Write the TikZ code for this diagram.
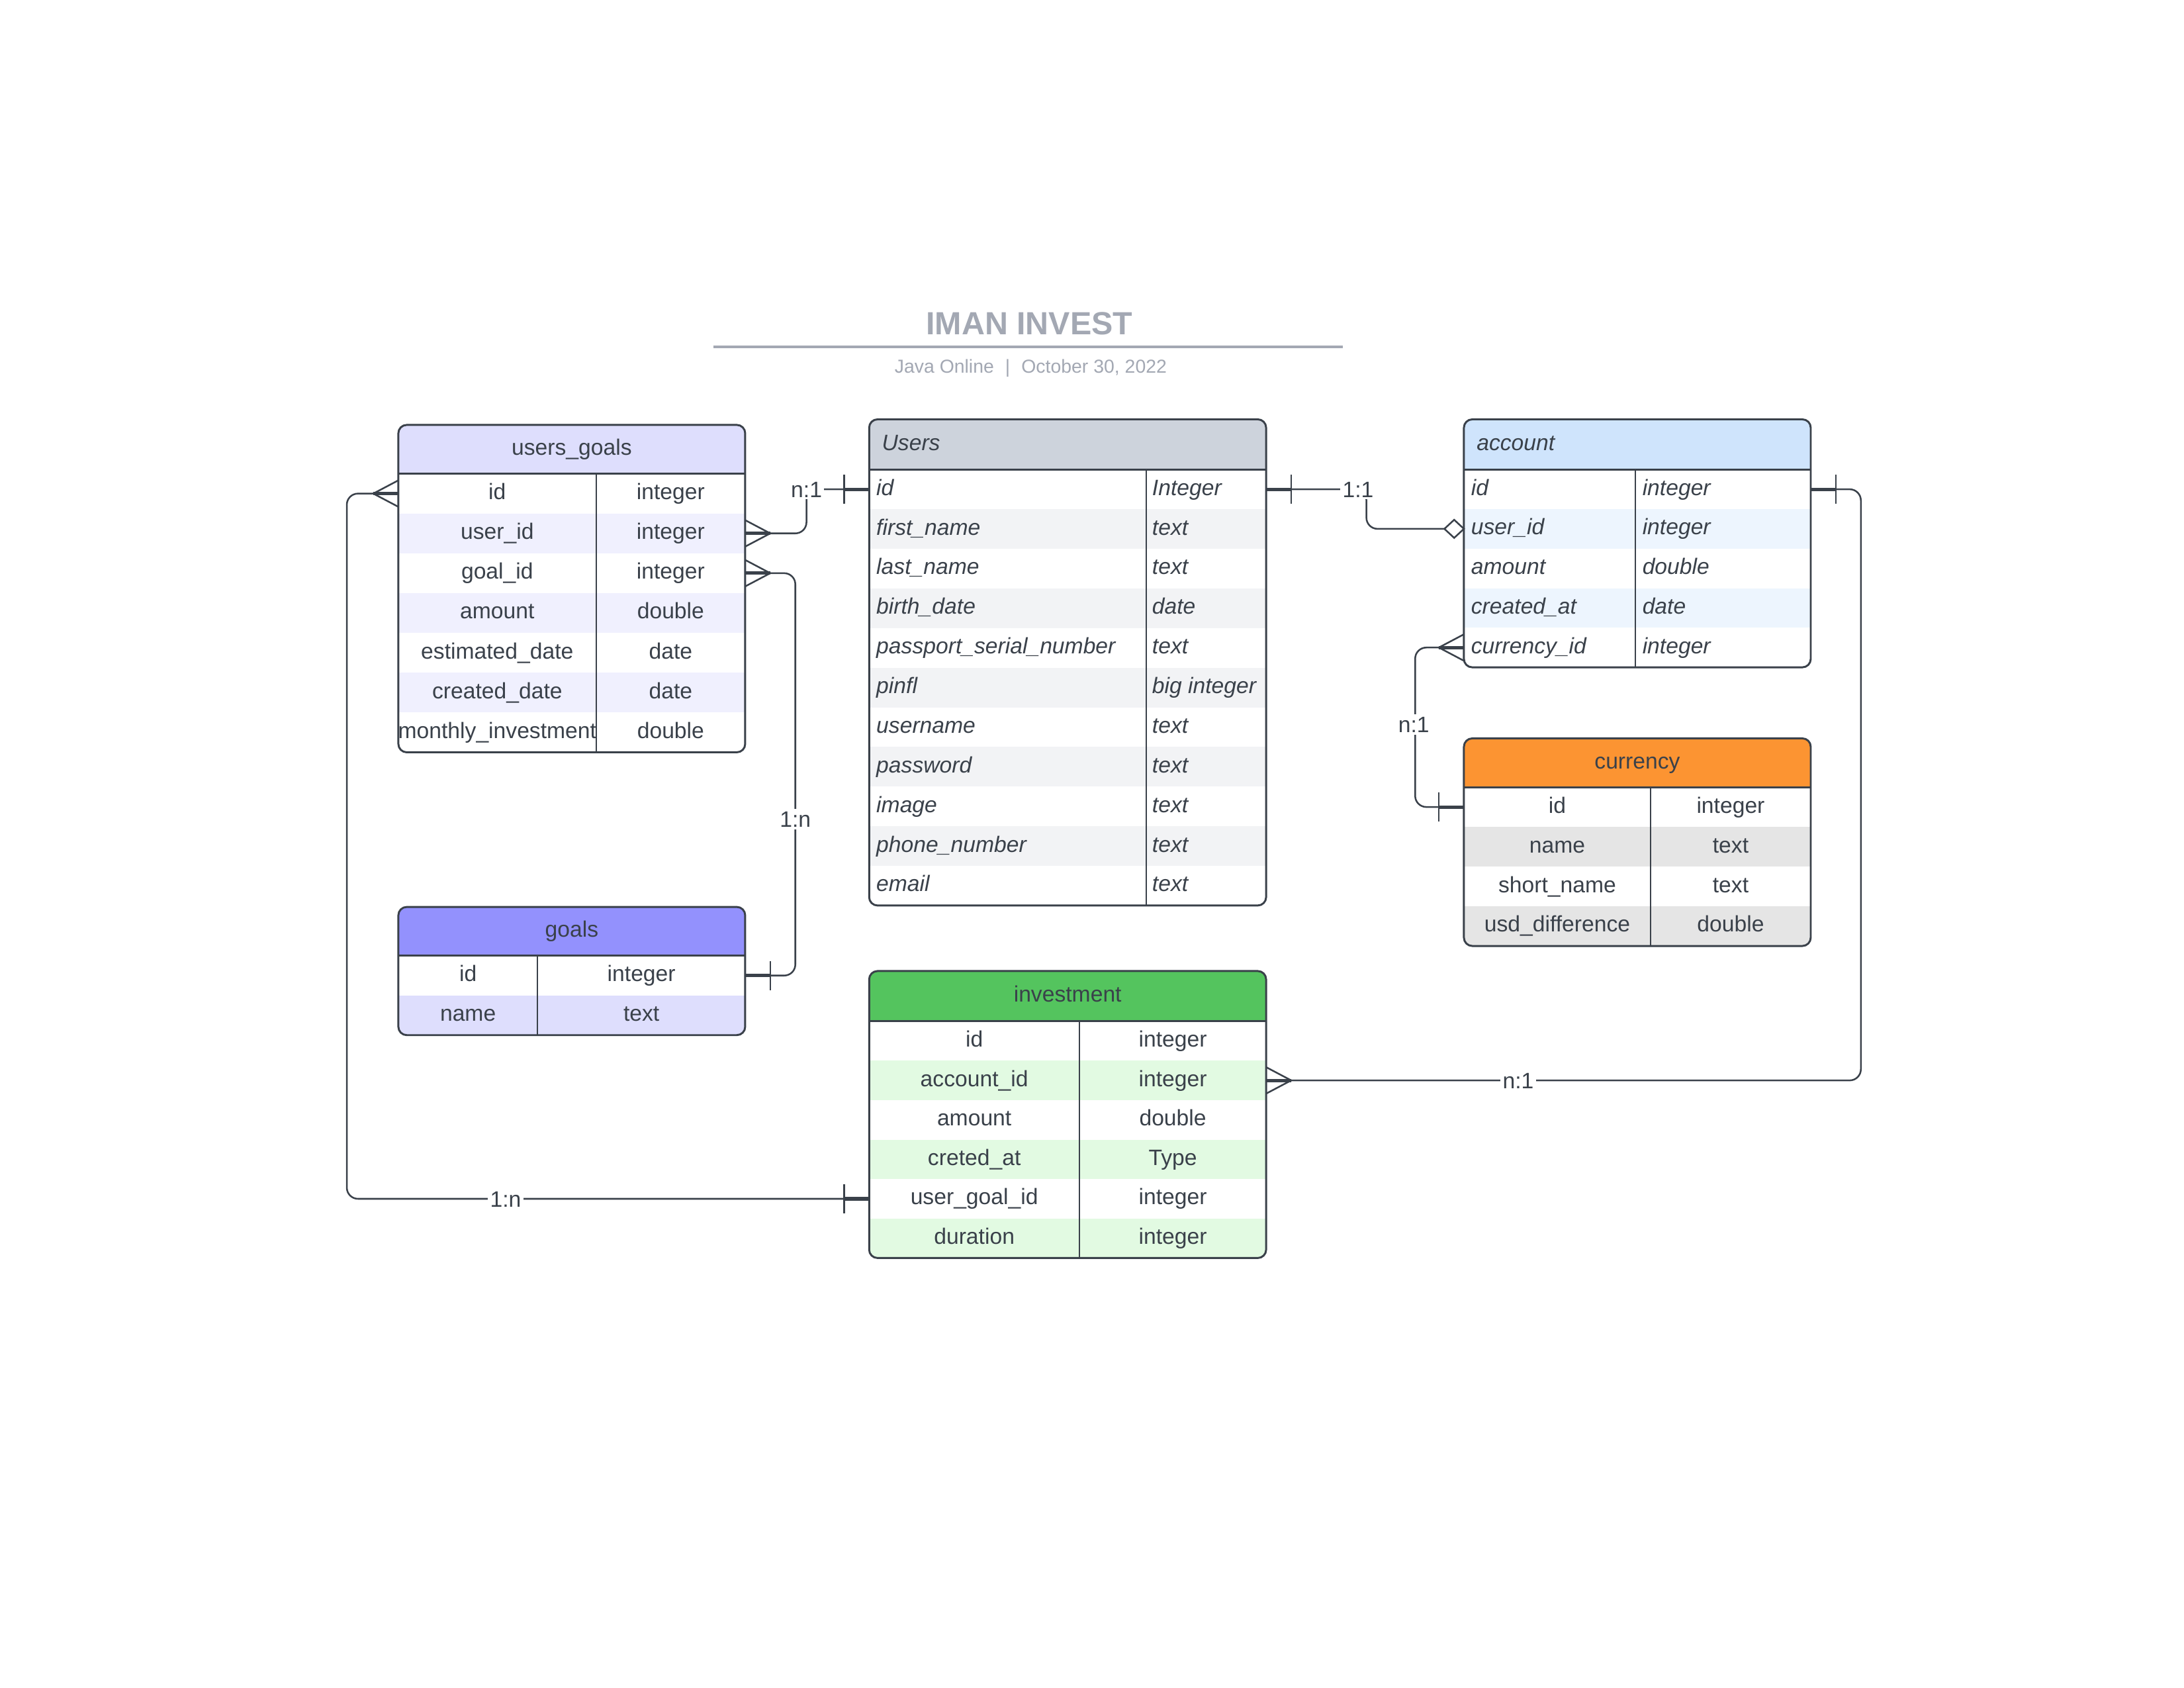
\documentclass[tikz,border=0pt]{standalone}
\usepackage{fontspec}
\setmainfont{Liberation Sans}
\usetikzlibrary{calc}
\definecolor{ink}{HTML}{3A414A}
\definecolor{ttl}{HTML}{A3A8B3}
\definecolor{ugH}{HTML}{DEDEFD}\definecolor{ugA}{HTML}{F0F0FE}
\definecolor{goH}{HTML}{9391FD}\definecolor{goA}{HTML}{DEDEFD}
\definecolor{usH}{HTML}{CDD3DC}\definecolor{usA}{HTML}{F2F3F5}
\definecolor{acH}{HTML}{CFE4FC}\definecolor{acA}{HTML}{EDF5FE}
\definecolor{cuH}{HTML}{FC9432}\definecolor{cuA}{HTML}{E5E5E5}
\definecolor{inH}{HTML}{54C45E}\definecolor{inA}{HTML}{E2FAE2}
\tikzset{
  conn/.style={draw=ink, line width=1.2pt},
  frame/.style={draw=ink, line width=1.4pt},
  cellc/.style={anchor=center, inner sep=0pt, yshift=1.5pt, text height=11.5pt, text depth=0pt, text=ink, font=\fontsize{16}{19}\selectfont},
  celll/.style={anchor=west, inner sep=0pt, yshift=1.5pt, text height=11.5pt, text depth=0pt, text=ink, font=\fontsize{16}{19}\selectfont\itshape},
  lbl/.style={fill=white, inner sep=1.5pt, text height=11.5pt, text depth=0pt, text=ink, font=\fontsize{16}{19}\selectfont},
  rowbox/.style={inner sep=0pt, outer sep=0pt, draw=none},
}
% #1 name #2 L #3 R #4 top #5 header bottom #6 row h #7 rows #8 divider #9 header colour; \altc = alt row colour
\newcommand{\ertable}[9]{%
  \pgfmathsetmacro{\erB}{#5+#6*#7}%
  \begin{scope}
    \clip[rounded corners=6pt] (#2,#4) rectangle (#3,\erB);
    \fill[fill=#9] (#2,#4) rectangle (#3,#5);
    \foreach \i in {1,...,#7}{%
      \pgfmathsetmacro{\erYa}{#5+(\i-1)*#6}%
      \pgfmathsetmacro{\erYb}{#5+\i*#6}%
      \ifodd\i\relax\else\fill[fill=\altc] (#2,\erYa) rectangle (#3,\erYb);\fi
    }
  \end{scope}
  \draw[ink, line width=1pt] (#8,#5) -- (#8,\erB);
  \draw[frame] (#2,#5) -- (#3,#5);
  \draw[frame, rounded corners=6pt] (#2,#4) rectangle (#3,\erB);
  \foreach \i in {1,...,#7}{%
    \pgfmathsetmacro{\erYc}{#5+(\i-0.5)*#6}%
    \node[rowbox, minimum width={#3-#2}, minimum height={#6}] (#1-\i) at ({(#2+#3)/2},\erYc) {};
  }%
}
\newcommand{\crow}[2]{%
  \begin{scope}[shift={(#1)}, rotate=#2]
    \draw[conn] (0,-9.5) -- (18,0) -- (0,9.5);
    \draw[ink, line width=2.4pt] (0,0) -- (18,0);
  \end{scope}}
\newcommand{\onebar}[2]{%
  \begin{scope}[shift={(#1)}, rotate=#2]
    \draw[conn] (18,-10.5) -- (18,10.5);
    \draw[ink, line width=2.4pt] (0,0) -- (18,0);
  \end{scope}}
\newcommand{\diam}[1]{%
  \begin{scope}[shift={(#1)}]
    \draw[conn, fill=white] (0,0) -- (-7,-6.5) -- (-14,0) -- (-7,6.5) -- cycle;
  \end{scope}}
\begin{document}
\begin{tikzpicture}[x=1pt, y=-1pt]
\useasboundingbox[fill=white] (0,0) rectangle (1568,1211.6);

% title
\node[font=\fontsize{23}{28}\selectfont\bfseries, text=ttl, inner sep=0pt] (title) at (739,232.5) {IMAN INVEST};
\coordinate (rl) at (512,249);
\coordinate (rr) at (964,249);
\draw[ttl, line width=2pt] (rl) -- (rr);
\node[font=\fontsize{13.5}{16}\selectfont, text=ttl, inner sep=0pt] (sub) at (740,264.5) {Java Online\hspace{0.6em}|\hspace{0.6em}October 30, 2022};

% tables
\def\altc{ugA}\ertable{ug}{286}{535}{305}{340}{28.57}{7}{428}{ugH}
\def\altc{usA}\ertable{us}{624}{909}{301}{337}{28.45}{11}{823}{usH}
\def\altc{acA}\ertable{ac}{1051}{1300}{301}{337}{28.4}{5}{1174}{acH}
\def\altc{cuA}\ertable{cu}{1051}{1300}{530}{565}{28.5}{4}{1185}{cuH}
\def\altc{goA}\ertable{go}{286}{535}{651}{686}{28.5}{2}{386}{goH}
\def\altc{inA}\ertable{inv}{624}{909}{697}{733}{28.33}{6}{775}{inH}

% headers
\node[cellc] (ug-h) at (410.5,322.5) {users\_goals};
\node[celll] (us-h) at (633,319) {Users};
\node[celll] (ac-h) at (1060,319) {account};
\node[cellc] (cu-h) at (1175.5,547.5) {currency};
\node[cellc] (go-h) at (410.5,668.5) {goals};
\node[cellc] (inv-h) at (766.5,715) {investment};

% column positions
\coordinate (ugc1) at (357,0);   \coordinate (ugc2) at (481.5,0);
\coordinate (usc1) at (629,0);   \coordinate (usc2) at (827,0);
\coordinate (acc1) at (1056,0);  \coordinate (acc2) at (1179,0);
\coordinate (cuc1) at (1118,0);  \coordinate (cuc2) at (1242.5,0);
\coordinate (goc1) at (336,0);   \coordinate (goc2) at (460.5,0);
\coordinate (invc1) at (699.5,0); \coordinate (invc2) at (842,0);

\foreach \a/\b [count=\i] in {id/integer, user\_id/integer, goal\_id/integer, amount/double, estimated\_date/date, created\_date/date, monthly\_investment/double}{
  \node[cellc] (ug-\i-a) at (ugc1 |- ug-\i.center) {\a};
  \node[cellc] (ug-\i-b) at (ugc2 |- ug-\i.center) {\b};
}
\foreach \a/\b [count=\i] in {id/Integer, first\_name/text, last\_name/text, birth\_date/date, passport\_serial\_number/text, pinfl/big integer, username/text, password/text, image/text, phone\_number/text, email/text}{
  \node[celll] (us-\i-a) at (usc1 |- us-\i.center) {\a};
  \node[celll] (us-\i-b) at (usc2 |- us-\i.center) {\b};
}
\foreach \a/\b [count=\i] in {id/integer, user\_id/integer, amount/double, created\_at/date, currency\_id/integer}{
  \node[celll] (ac-\i-a) at (acc1 |- ac-\i.center) {\a};
  \node[celll] (ac-\i-b) at (acc2 |- ac-\i.center) {\b};
}
\foreach \a/\b [count=\i] in {id/integer, name/text, short\_name/text, usd\_difference/double}{
  \node[cellc] (cu-\i-a) at (cuc1 |- cu-\i.center) {\a};
  \node[cellc] (cu-\i-b) at (cuc2 |- cu-\i.center) {\b};
}
\foreach \a/\b [count=\i] in {id/integer, name/text}{
  \node[cellc] (go-\i-a) at (goc1 |- go-\i.center) {\a};
  \node[cellc] (go-\i-b) at (goc2 |- go-\i.center) {\b};
}
\foreach \a/\b [count=\i] in {id/integer, account\_id/integer, amount/double, creted\_at/Type, user\_goal\_id/integer, duration/integer}{
  \node[cellc] (inv-\i-a) at (invc1 |- inv-\i.center) {\a};
  \node[cellc] (inv-\i-b) at (invc2 |- inv-\i.center) {\b};
}

% connector bend columns
\coordinate (xa) at (579,0);
\coordinate (xb) at (571,0);
\coordinate (xc) at (249,0);
\coordinate (xd) at (981,0);
\coordinate (xe) at (1016,0);
\coordinate (xf) at (1336,0);
\coordinate (xg) at (363,0);
\coordinate (xh) at (975,0);
\coordinate (xi) at (1090,0);

% connectors
\draw[conn, rounded corners=8pt] (ug-2.east) -| (xa |- us-1.west) -- (us-1.west);
\draw[conn, rounded corners=8pt] (ug-3.east) -| (xb |- go-1.east) -- (go-1.east);
\draw[conn, rounded corners=8pt] (ug-1.west) -| (xc |- inv-5.west) -- (inv-5.west);
\draw[conn, rounded corners=8pt] (us-1.east) -| (xd |- ac-2.west) -- (ac-2.west);
\draw[conn, rounded corners=8pt] (ac-5.west) -| (xe |- cu-1.west) -- (cu-1.west);
\draw[conn, rounded corners=8pt] (ac-1.east) -| (xf |- inv-2.east) -- (inv-2.east);

% ends
\crow{ug-2.east}{0}   \onebar{us-1.west}{180}
\crow{ug-3.east}{0}   \onebar{go-1.east}{0}
\crow{ug-1.west}{180} \onebar{inv-5.west}{180}
\onebar{us-1.east}{0} \diam{ac-2.west}
\crow{ac-5.west}{180} \onebar{cu-1.west}{180}
\onebar{ac-1.east}{0} \crow{inv-2.east}{0}

% labels
\node[lbl] (l1) at (xa |- us-1.west) {n:1};
\node[lbl] (l2) at (571,588) {1:n};
\node[lbl] (l3) at (xg |- inv-5.west) {1:n};
\node[lbl] (l4) at (xh |- us-1.east) {1:1};
\node[lbl] (l5) at (1015,520) {n:1};
\node[lbl] (l6) at (xi |- inv-2.east) {n:1};
\end{tikzpicture}
\end{document}
